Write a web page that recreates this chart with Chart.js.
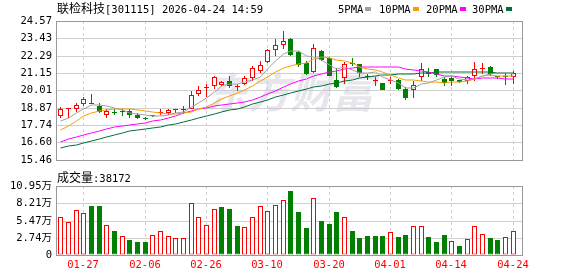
<!DOCTYPE html>
<html>
<head>
<meta charset="utf-8">
<script src="https://cdn.jsdelivr.net/npm/chart.js@4.4.1/dist/chart.umd.min.js"></script>
<style>
    html, body { margin: 0; padding: 0; background: #fff; }
    #wrap { position: relative; width: 578px; height: 276px; overflow: hidden; }
    .box { position: absolute; left: 0; width: 578px; }
    .txt { position: absolute; white-space: nowrap; color: #000; line-height: 12px;
           font-family: "DejaVu Sans Mono", monospace; font-size: 10.5px; }
    .cjk { font-family: "Noto Sans CJK SC"; font-size: 12px; }
    .mark { position: absolute; width: 6px; height: 4px; }
</style>
</head>
<body>
<div id="wrap">
    <div class="box" style="top:0;height:170px"><canvas id="kline"></canvas></div>
    <div class="box" style="top:170px;height:106px"><canvas id="vol"></canvas></div>
    <div class="txt" style="left:57px;top:2px"><span class="cjk">联检科技</span>[301115] 2026-04-24 14:59</div>
    <div id="legend"></div>
    <div class="txt" style="left:57px;top:171px"><span class="cjk">成交量</span>:38172</div>
</div>
<script>
// trading days shown on the chart
const dates = ["01-22", "01-23", "01-26", "01-27", "01-28", "01-29", "01-30", "02-02", "02-03", "02-04",
    "02-05", "02-06", "02-09", "02-10", "02-11", "02-12", "02-13", "02-24", "02-25", "02-26",
    "02-27", "03-02", "03-03", "03-04", "03-05", "03-06", "03-09", "03-10", "03-11", "03-12",
    "03-13", "03-16", "03-17", "03-18", "03-19", "03-20", "03-23", "03-24", "03-25", "03-26",
    "03-27", "03-30", "03-31", "04-01", "04-02", "04-03", "04-07", "04-08", "04-09", "04-10",
    "04-13", "04-14", "04-15", "04-16", "04-17", "04-20", "04-21", "04-22", "04-23", "04-24"];
const tickDates = ["01-27", "02-06", "02-26", "03-10", "03-20", "04-01", "04-14", "04-24"];

const open = [18.32, 18.81, 18.76, 19.11, 19.16, 18.97, 18.42, 18.57, 18.63, 18.65,
    18.40, 18.17, 18.34, 18.55, 18.51, 18.70, 18.72, 18.82, 19.77, 20.17,
    20.28, 20.38, 20.62, 20.24, 20.41, 20.80, 21.29, 21.86, 22.66, 23.02,
    23.40, 22.56, 21.82, 21.23, 22.60, 22.13, 20.70, 20.82, 21.76, 21.75,
    20.93, 20.60, 20.49, 20.65, 20.70, 20.13, 20.03, 20.87, 21.25, 21.44,
    20.76, 20.82, 20.70, 20.66, 20.98, 21.44, 21.55, 20.89, 20.89, 20.87];
const high = [18.93, 18.84, 19.18, 19.56, 19.75, 19.18, 18.82, 18.76, 18.76, 18.80,
    18.51, 18.24, 18.40, 18.82, 18.76, 18.82, 18.97, 19.96, 20.30, 20.45,
    20.98, 20.66, 20.93, 20.45, 20.98, 21.61, 21.93, 22.70, 23.36, 23.89,
    23.44, 22.60, 21.93, 23.04, 22.66, 22.18, 21.50, 21.88, 22.13, 21.77,
    21.08, 20.91, 20.50, 20.87, 20.76, 20.24, 20.66, 21.82, 21.50, 21.45,
    20.87, 20.91, 20.72, 20.98, 21.88, 21.82, 21.61, 20.98, 21.18, 21.29];
const low = [18.19, 18.23, 18.61, 18.97, 19.10, 18.51, 18.23, 18.38, 18.34, 18.21,
    18.13, 18.10, 18.28, 18.38, 18.40, 18.55, 18.44, 18.76, 19.67, 19.60,
    20.13, 20.28, 20.17, 19.96, 20.34, 20.66, 21.18, 21.84, 22.24, 22.70,
    22.30, 21.55, 21.01, 21.18, 21.93, 20.93, 20.19, 20.41, 21.61, 20.91,
    20.72, 20.28, 20.03, 20.41, 20.03, 19.35, 19.50, 20.66, 20.87, 20.91,
    20.28, 20.28, 20.53, 20.41, 20.66, 21.08, 20.98, 20.76, 20.34, 20.44];
const close = [18.80, 18.83, 19.08, 19.43, 19.13, 18.61, 18.63, 18.55, 18.62, 18.38,
    18.17, 18.15, 18.33, 18.58, 18.70, 18.74, 18.76, 19.71, 20.06, 20.24,
    20.87, 20.55, 20.28, 20.26, 20.80, 21.50, 21.71, 22.66, 23.02, 23.23,
    22.34, 21.71, 21.08, 22.77, 22.03, 20.98, 20.24, 21.75, 21.72, 21.18,
    20.91, 20.62, 20.06, 20.67, 20.13, 19.50, 20.34, 21.39, 21.08, 21.04,
    20.49, 20.66, 20.55, 20.87, 21.39, 21.46, 21.08, 20.87, 20.88, 21.14];

// volume in 万 (10k) shares
const volume = [5.98, 5.24, 7.09, 6.67, 7.83, 7.83, 4.76, 3.81, 3.02, 2.38,
    2.06, 2.06, 3.17, 3.81, 3.02, 2.70, 2.70, 8.25, 5.98, 4.76,
    7.30, 7.62, 7.30, 4.60, 4.44, 5.98, 7.78, 6.98, 7.94, 8.73,
    10.20, 6.82, 4.28, 9.00, 5.40, 4.92, 6.82, 5.98, 3.81, 2.70,
    3.02, 3.02, 3.02, 3.65, 2.86, 3.17, 4.55, 4.55, 2.86, 2.06,
    3.17, 2.22, 1.43, 2.54, 4.55, 3.33, 2.70, 2.38, 2.86, 3.82];

const ma5 = [18.00, 18.23, 18.50, 18.80, 19.05, 19.02, 18.98, 18.87, 18.71, 18.56,
    18.47, 18.37, 18.33, 18.32, 18.39, 18.50, 18.62, 18.90, 19.19, 19.50,
    19.93, 20.29, 20.40, 20.44, 20.55, 20.68, 20.91, 21.39, 21.94, 22.42,
    22.59, 22.59, 22.28, 22.23, 21.99, 21.71, 21.42, 21.55, 21.34, 21.17,
    21.16, 21.24, 20.90, 20.69, 20.48, 20.20, 20.14, 20.41, 20.49, 20.67,
    20.87, 20.93, 20.76, 20.72, 20.79, 20.99, 21.07, 21.13, 21.14, 21.09];
const ma10 = [17.39, 17.70, 18.02, 18.30, 18.51, 18.63, 18.72, 18.76, 18.78, 18.81,
    18.74, 18.68, 18.60, 18.52, 18.47, 18.49, 18.50, 18.61, 18.76, 18.94,
    19.21, 19.45, 19.65, 19.82, 20.03, 20.30, 20.60, 20.89, 21.19, 21.49,
    21.64, 21.75, 21.83, 22.08, 22.21, 22.15, 22.01, 21.92, 21.79, 21.58,
    21.44, 21.33, 21.23, 21.02, 20.83, 20.68, 20.69, 20.65, 20.59, 20.57,
    20.53, 20.54, 20.59, 20.61, 20.73, 20.93, 21.00, 20.95, 20.93, 20.94];
const ma20 = [16.65, 16.80, 16.95, 17.10, 17.24, 17.37, 17.48, 17.58, 17.67, 17.75,
    17.82, 17.90, 17.98, 18.07, 18.20, 18.35, 18.50, 18.63, 18.76, 18.88,
    18.98, 19.06, 19.12, 19.17, 19.25, 19.39, 19.55, 19.75, 19.97, 20.22,
    20.42, 20.60, 20.74, 20.95, 21.12, 21.23, 21.30, 21.40, 21.49, 21.53,
    21.54, 21.54, 21.53, 21.55, 21.52, 21.42, 21.35, 21.28, 21.19, 21.08,
    20.98, 20.93, 20.91, 20.81, 20.78, 20.80, 20.84, 20.80, 20.76, 20.76];
const ma30 = [16.23, 16.34, 16.45, 16.55, 16.68, 16.82, 16.96, 17.08, 17.20, 17.32,
    17.42, 17.50, 17.56, 17.63, 17.72, 17.82, 17.95, 18.08, 18.22, 18.36,
    18.48, 18.58, 18.70, 18.80, 18.95, 19.10, 19.25, 19.38, 19.55, 19.72,
    19.86, 19.98, 20.10, 20.22, 20.32, 20.42, 20.50, 20.60, 20.70, 20.80,
    20.88, 20.95, 21.00, 21.04, 21.07, 21.09, 21.12, 21.15, 21.18, 21.20,
    21.20, 21.21, 21.21, 21.22, 21.23, 21.22, 21.20, 21.18, 21.16, 21.14];

const maNames = ["5PMA", "10PMA", "20PMA", "30PMA"];
const maColors = ["#a0a0a0", "#f5a000", "#ff00ff", "#00703a"];
const maSeries = [ma5, ma10, ma20, ma30];

const priceTicks = [15.46, 16.60, 17.74, 18.87, 20.01, 21.15, 22.29, 23.43, 24.57];
const volTicks = [0, 2.74, 5.47, 8.21, 10.95];

const upColor = "#ff0000";
const downColor = "#008000";
const gridColor = "#d0d0d0";
const tickFont = { family: '"DejaVu Sans Mono", "Noto Sans CJK SC"', size: 10.5 };

const idx = dates.map((d, i) => i);
const isUp = idx.map(i => close[i] >= open[i]);
// volume colour follows the change against the previous close
const volUp = idx.map(i => i === 0 ? isUp[0] : close[i] >= close[i - 1]);
const tickIdx = tickDates.map(d => dates.indexOf(d));

// legend: name first, colour mark after it
const legendLeft = [338, 379, 426, 472];
const legend = document.getElementById("legend");
maNames.forEach((name, k) => {
    const t = document.createElement("div");
    t.className = "txt";
    t.style.left = legendLeft[k] + "px";
    t.style.top = "3px";
    t.textContent = name;
    legend.appendChild(t);
    const m = document.createElement("div");
    m.className = "mark";
    m.style.left = (legendLeft[k] + name.length * 6.3 + 2) + "px";
    m.style.top = "7px";
    m.style.background = maColors[k];
    legend.appendChild(m);
});

const frame = {
    id: "frame",
    afterDatasetsDraw(chart) {
        const { ctx, chartArea: a } = chart;
        ctx.save();
        ctx.strokeStyle = "#999";
        ctx.lineWidth = 1;
        ctx.strokeRect(Math.round(a.left) + 0.5, Math.round(a.top) + 0.5,
            Math.round(a.right - a.left), Math.round(a.bottom - a.top));
        ctx.restore();
    }
};

// bars are centred on whole pixels, shift half a pixel so 5px bars stay crisp
const halfPixel = {
    id: "halfPixel",
    beforeDatasetsDraw(chart) {
        chart.ctx.save();
        chart.ctx.translate(0.5, 0);
    },
    afterDatasetsDraw(chart) {
        chart.ctx.restore();
    }
};

const watermark = {
    id: "watermark",
    beforeDatasetsDraw(chart) {
        const { ctx } = chart;
        ctx.save();
        ctx.font = 'italic bold 42px "Noto Sans CJK SC"';
        ctx.fillStyle = "rgba(200, 200, 212, 0.45)";
        ctx.textAlign = "center";
        ctx.textBaseline = "middle";
        ctx.fillText("东方财富", 290, 92);
        ctx.restore();
    }
};

function xAxis(showLabels) {
    return {
        type: "linear",
        min: -0.55,
        max: 60.2,
        offset: false,
        alignToPixels: true,
        afterBuildTicks: s => { s.ticks = tickIdx.map(v => ({ value: v })); },
        afterFit: s => { s.height = showLabels ? 21 : 0; },
        grid: { color: gridColor, drawTicks: false, offset: false },
        border: { display: false, dash: [3, 3] },
        ticks: {
            display: showLabels,
            color: "#ff0000",
            padding: 4,
            maxRotation: 0,
            autoSkip: false,
            font: tickFont,
            callback: v => dates[v]
        }
    };
}

function yAxis(min, max, ticks, fmt) {
    return {
        min: min,
        max: max,
        alignToPixels: true,
        afterBuildTicks: s => { s.ticks = ticks.map(v => ({ value: v })); },
        afterFit: s => { s.width = 56; },
        grid: { color: gridColor, drawTicks: false },
        border: { display: false },
        ticks: { color: "#000", padding: 4, autoSkip: false, font: tickFont, callback: fmt }
    };
}

const common = {
    responsive: true,
    maintainAspectRatio: false,
    animation: false,
    events: [],
    plugins: { legend: { display: false }, tooltip: { enabled: false } }
};

new Chart(document.getElementById("kline"), {
    type: "bar",
    data: {
        datasets: [
            ...maSeries.map((m, k) => ({
                type: "line",
                label: maNames[k],
                data: m.map((v, i) => ({ x: i, y: v })),
                borderColor: maColors[k],
                borderWidth: 1,
                pointRadius: 0,
                tension: 0,
                order: 0
            })),
            {
                label: "body",
                data: idx.map(i => ({ x: i, y: [open[i], close[i]] })),
                backgroundColor: idx.map(i => isUp[i] ? "#ffffff" : downColor),
                borderColor: idx.map(i => isUp[i] ? upColor : downColor),
                borderWidth: 1,
                borderSkipped: false,
                barThickness: 5,
                minBarLength: 1,
                grouped: false,
                inflateAmount: 0,
                order: 1
            },
            {
                label: "wick",
                data: idx.map(i => ({ x: i, y: [low[i], high[i]] })),
                backgroundColor: idx.map(i => isUp[i] ? upColor : downColor),
                borderWidth: 0,
                barThickness: 1,
                grouped: false,
                inflateAmount: 0,
                order: 2
            }
        ]
    },
    options: {
        ...common,
        layout: { padding: { top: 21, right: 56, bottom: 5, left: 0 } },
        scales: {
            x: xAxis(false),
            y: yAxis(15.46, 24.57, priceTicks, v => v.toFixed(2))
        }
    },
    plugins: [watermark, halfPixel, frame]
});

new Chart(document.getElementById("vol"), {
    type: "bar",
    data: {
        datasets: [{
            label: "volume",
            data: idx.map(i => ({ x: i, y: volume[i] })),
            backgroundColor: idx.map(i => volUp[i] ? "#ffffff" : downColor),
            borderColor: idx.map(i => volUp[i] ? upColor : downColor),
            borderWidth: 1,
            borderSkipped: false,
            barThickness: 5,
            grouped: false,
            inflateAmount: 0
        }]
    },
    options: {
        ...common,
        layout: { padding: { top: 16, right: 56, bottom: 0, left: 0 } },
        scales: {
            x: xAxis(true),
            y: yAxis(0, 10.95, volTicks, v => v === 0 ? "0" : v.toFixed(2) + "万")
        }
    },
    plugins: [halfPixel, frame]
});
</script>
</body>
</html>
